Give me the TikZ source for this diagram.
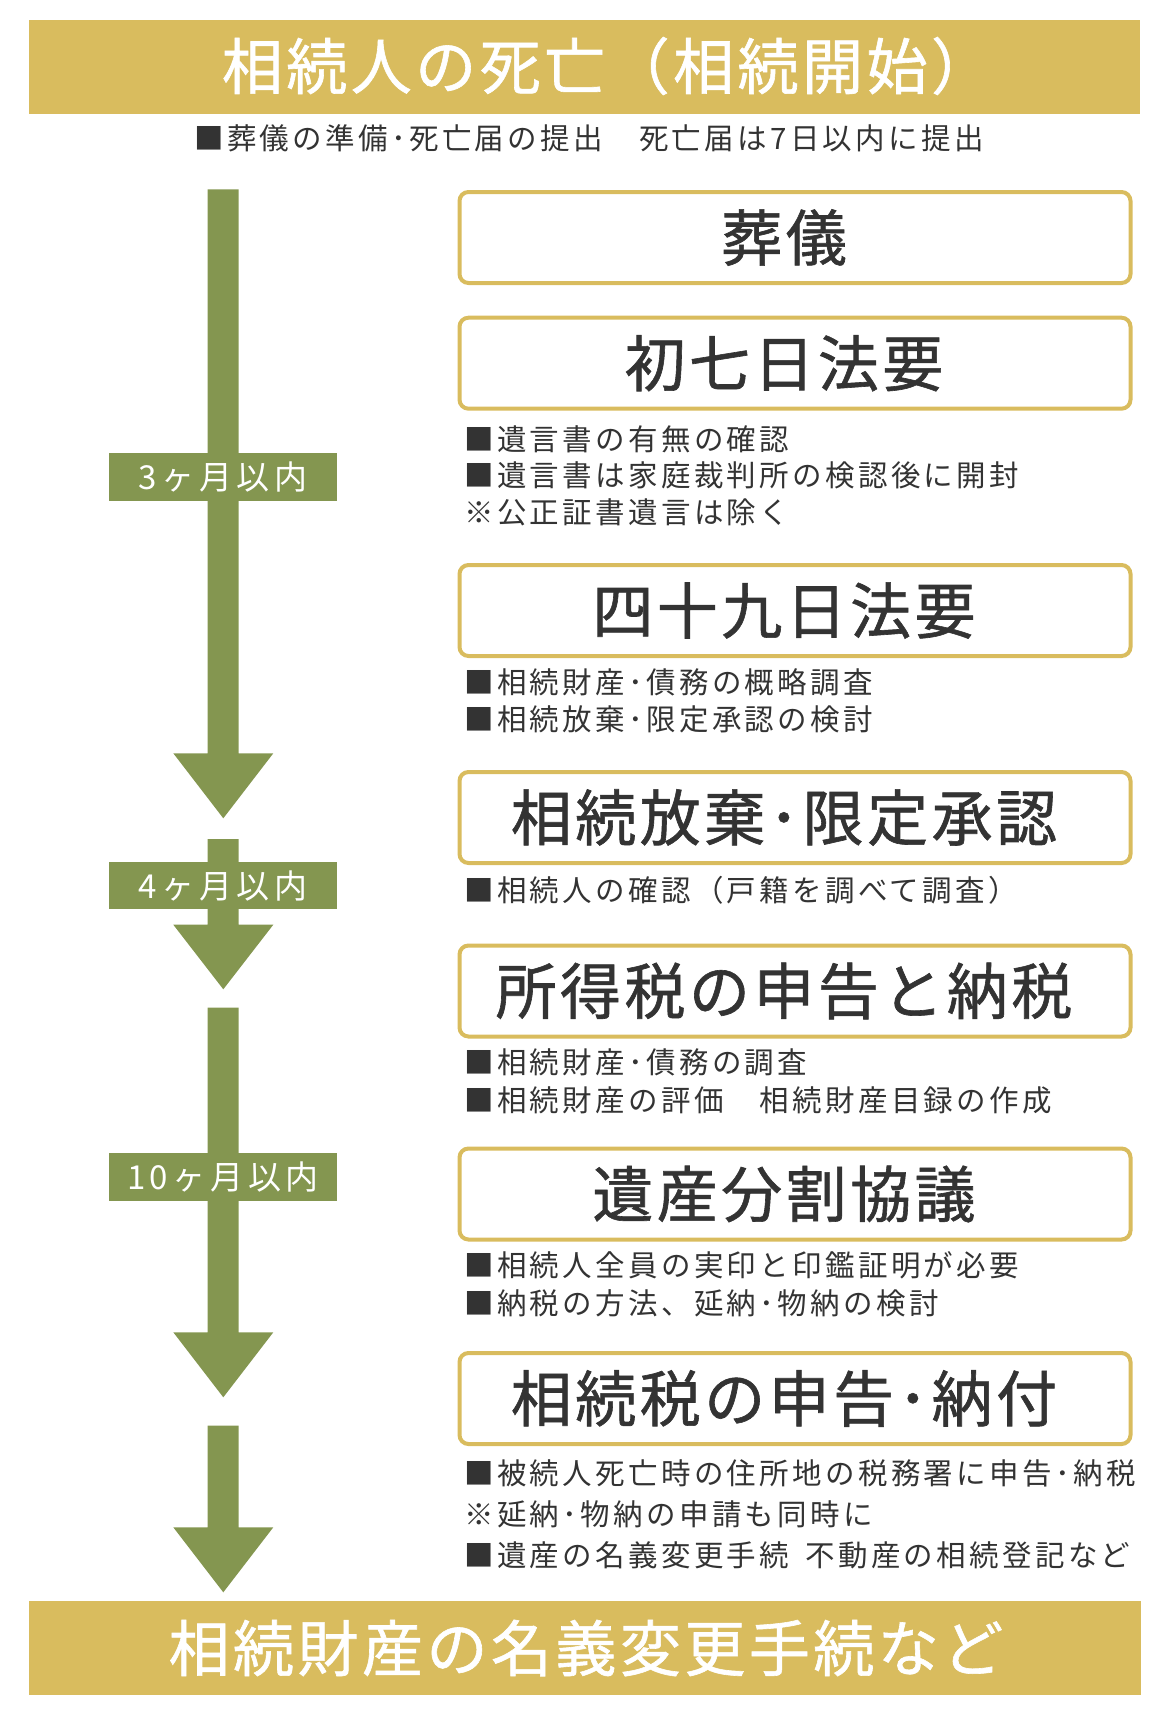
\documentclass[tikz,border=0pt]{standalone}
\usepackage{fontspec}
\setmainfont{Noto Sans CJK JP}
\newfontfamily\bigjp[LetterSpace=5.7,FakeBold=1]{Noto Sans CJK JP}
\newfontfamily\notejp[LetterSpace=11.3]{Noto Sans CJK JP}
\newfontfamily\monthjp[LetterSpace=14]{Noto Sans CJK JP}
\definecolor{kin}{RGB}{217,188,94}
\definecolor{koke}{RGB}{132,150,80}
\definecolor{sumi}{RGB}{51,51,51}
\def\blockarrow(#1:#2:#3){\fill[koke] (207.5,#1) -- (238.5,#1) -- (238.5,#2) -- (273.3,#2) -- (223.3,#3) -- (173.3,#2) -- (207.5,#2) -- cycle;}
\tikzset{
	x=1pt, y=-1pt,
	stepcard/.style={draw=kin, line width=4pt, rounded corners=9pt, minimum width=671pt, minimum height=91pt, inner sep=0pt},
	cardtitle/.style={text=sumi, font=\bigjp\fontsize{61}{70}\selectfont, inner sep=0pt},
	note/.style={text=sumi, font=\notejp\fontsize{29.5}{34}\selectfont, inner sep=0pt, anchor=west},
	monthtag/.style={fill=koke, text=white, minimum width=227.7pt, minimum height=47.7pt, inner sep=0pt, font=\monthjp\fontsize{33}{38}\selectfont},
	bandtext/.style={text=white, font=\bigjp\fontsize{61}{70}\selectfont, inner sep=0pt}
}

\begin{document}
\begin{tikzpicture}
			%%%%% START %%%%%
			\useasboundingbox (0,0) rectangle (1170,1710);
			
			\fill[kin] (28.5,20) rectangle (1140,114);
			\node[bandtext] (kaishi) at (607,66) {相続人の死亡（相続開始）};
			\node[note] (kaishinote) at (194,138.3) {■葬儀の準備･死亡届の提出　死亡届は7日以内に提出};
			
			\blockarrow(189.3:753.3:818.3)
			\blockarrow(839:924.7:989.3)
			\blockarrow(1007.7:1332.3:1397.3)
			\blockarrow(1425.7:1527.3:1592.3)
			
			\node[monthtag] (m3) at (222.9,477.2) {3ヶ月以内};
			\node[monthtag] (m4) at (222.9,885.5) {4ヶ月以内};
			\node[monthtag] (m10) at (222.9,1176.9) {10ヶ月以内};
			
			\node[stepcard] (sougi) at (795,237.5) {};
			\node[cardtitle] at ([xshift=-11pt]sougi.center) {葬儀};
			
			\node[stepcard] (shonanoka) at (795,363.2) {};
			\node[cardtitle] at ([xshift=-11pt]shonanoka.center) {初七日法要};
			\node[note] (n21) at (464,439) {■遺言書の有無の確認};
			\node[note] (n22) at (464,475.5) {■遺言書は家庭裁判所の検認後に開封};
			\node[note] (n23) at (464,512.5) {※公正証書遺言は除く};
			
			\node[stepcard] (shijuku) at (795,610.5) {};
			\node[cardtitle] at ([xshift=-11pt]shijuku.center) {四十九日法要};
			\node[note] (n31) at (464,682) {■相続財産･債務の概略調査};
			\node[note] (n32) at (464,719.5) {■相続放棄･限定承認の検討};
			
			\node[stepcard] (houki) at (795,817.5) {};
			\node[cardtitle] at ([xshift=-11pt]houki.center) {相続放棄･限定承認};
			\node[note] (n41) at (464,890) {■相続人の確認（戸籍を調べて調査）};
			
			\node[stepcard] (shotoku) at (795,991) {};
			\node[cardtitle] at ([xshift=-11pt]shotoku.center) {所得税の申告と納税};
			\node[note] (n51) at (464,1062) {■相続財産･債務の調査};
			\node[note] (n52) at (464,1100) {■相続財産の評価　相続財産目録の作成};
			
			\node[stepcard] (bunkatsu) at (795,1194) {};
			\node[cardtitle] at ([xshift=-11pt]bunkatsu.center) {遺産分割協議};
			\node[note] (n61) at (464,1265) {■相続人全員の実印と印鑑証明が必要};
			\node[note] (n62) at (464,1303) {■納税の方法、延納･物納の検討};
			
			\node[stepcard] (zei) at (795,1398.5) {};
			\node[cardtitle] at ([xshift=-11pt]zei.center) {相続税の申告･納付};
			\node[note] (n71) at (464,1473) {■被続人死亡時の住所地の税務署に申告･納税};
			\node[note] (n72) at (464,1514) {※延納･物納の申請も同時に};
			\node[note] (n73) at (464,1555) {■遺産の名義変更手続\hspace{0.55em}不動産の相続登記など};
			
			\fill[kin] (29,1601) rectangle (1141,1695);
			\node[bandtext] (meigi) at (586,1648) {相続財産の名義変更手続など};
			
			%%%%% END %%%%%
\end{tikzpicture}
\end{document}
